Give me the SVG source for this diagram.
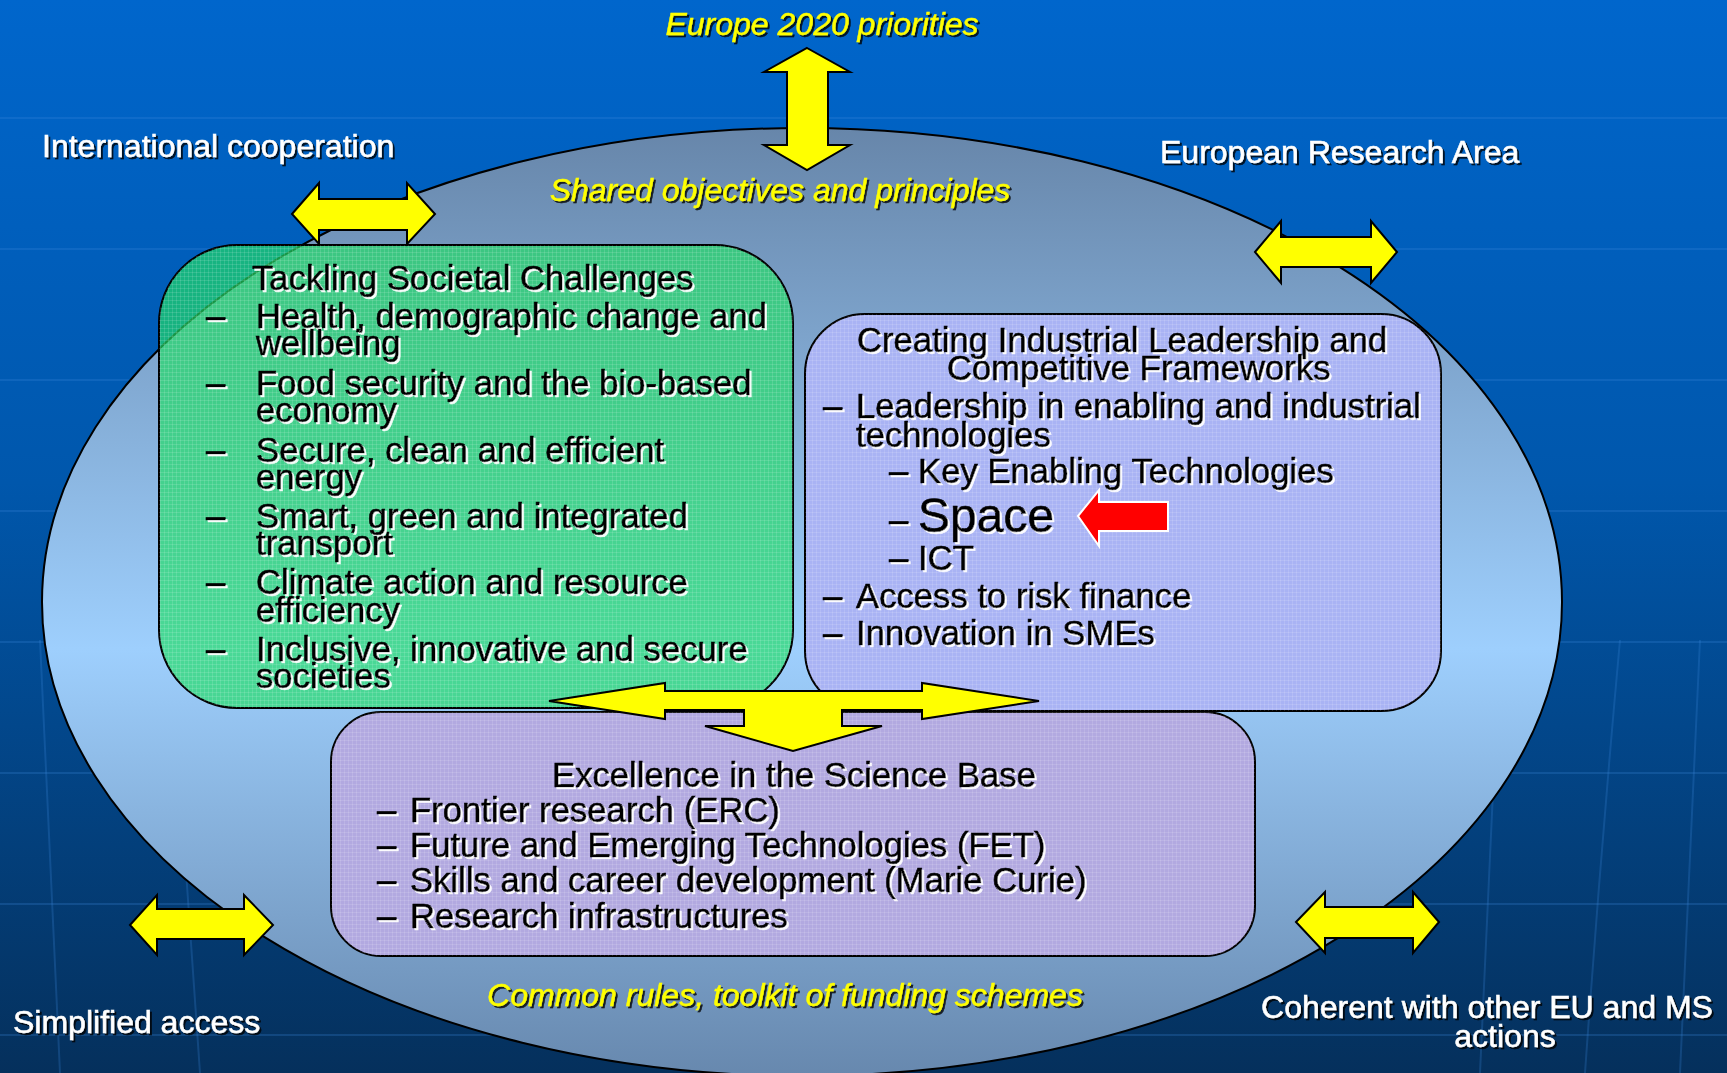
<svg xmlns="http://www.w3.org/2000/svg" width="1727" height="1073" viewBox="0 0 1727 1073">
<defs>
<linearGradient id="bg" x1="0" y1="0" x2="0" y2="1">
<stop offset="0" stop-color="#0066CC"/>
<stop offset="0.45" stop-color="#0057AC"/>
<stop offset="1" stop-color="#05305C"/>
</linearGradient>
<linearGradient id="ell" x1="0" y1="0" x2="0" y2="1">
<stop offset="0" stop-color="#6786AA"/>
<stop offset="0.55" stop-color="#9ECFFD"/>
<stop offset="1" stop-color="#6788AE"/>
</linearGradient>
<pattern id="grid" width="4" height="4" patternUnits="userSpaceOnUse">
<path d="M0 0.5H4M0.5 0V4" stroke="#ffffff" stroke-opacity="0.12" stroke-width="1"/>
</pattern>
<filter id="wsh" x="-5%" y="-20%" width="110%" height="140%">
<feDropShadow dx="2" dy="2" stdDeviation="0" flood-color="#ffffff" flood-opacity="0.95"/>
</filter>
<filter id="dsh" x="-5%" y="-20%" width="110%" height="140%">
<feDropShadow dx="2" dy="2" stdDeviation="0" flood-color="#000000" flood-opacity="0.8"/>
</filter>
<style>
.t{font-family:"Liberation Sans",Arial,sans-serif;font-size:34.7px;fill:#000;stroke:#000;stroke-width:0.6px;}
.lab{font-family:"Liberation Sans",Arial,sans-serif;font-size:32px;fill:#fff;stroke:#fff;stroke-width:0.5px;}
.yl{font-family:"Liberation Sans",Arial,sans-serif;font-size:32px;font-style:italic;fill:#FFFF00;stroke:#FFFF00;stroke-width:0.4px;}
.arr{fill:#FFFF00;stroke:#000;stroke-width:2;stroke-linejoin:miter;}
.box{stroke:#000;stroke-width:2;}
.faint{stroke:#3A86DA;stroke-opacity:0.25;stroke-width:2;fill:none;}
</style>
</defs>
<rect width="1727" height="1073" fill="url(#bg)"/>
<g id="globe-lines">
<path class="faint" d="M0 118H1727M0 249H1727M0 380H1727M0 511H1727M0 642H1727M0 773H1727M0 904H1727M0 1035H1727"/>
<path class="faint" d="M40 640Q50 860 60 1073M170 640Q185 860 200 1073M1500 640Q1490 860 1480 1073M1620 640Q1600 860 1585 1073M1700 640Q1690 860 1680 1073"/>
</g>
<g id="ellipse">
<ellipse cx="802" cy="602" rx="760" ry="474" fill="url(#ell)" stroke="#000" stroke-width="2"/>
</g>
<g id="societal">
<rect class="box" x="159" y="245" width="634" height="463" rx="78" ry="78" fill="#22DD66" fill-opacity="0.68"/>
<rect x="159" y="245" width="634" height="463" rx="78" ry="78" fill="url(#grid)"/>
<g filter="url(#wsh)">
<text class="t" x="252" y="290">Tackling Societal Challenges</text>
<text class="t" x="206" y="328">–</text><text class="t" x="256" y="328">Health, demographic change and</text>
<text class="t" x="256" y="355">wellbeing</text>
<text class="t" x="206" y="395">–</text><text class="t" x="256" y="395">Food security and the bio-based</text>
<text class="t" x="256" y="422">economy</text>
<text class="t" x="206" y="462">–</text><text class="t" x="256" y="462">Secure, clean and efficient</text>
<text class="t" x="256" y="489">energy</text>
<text class="t" x="206" y="528">–</text><text class="t" x="256" y="528">Smart, green and integrated</text>
<text class="t" x="256" y="555">transport</text>
<text class="t" x="206" y="594">–</text><text class="t" x="256" y="594">Climate action and resource</text>
<text class="t" x="256" y="622">efficiency</text>
<text class="t" x="206" y="661">–</text><text class="t" x="256" y="661">Inclusive, innovative and secure</text>
<text class="t" x="256" y="688">societies</text>
</g>
</g>
<g id="industrial">
<rect class="box" x="805" y="314" width="636" height="397" rx="60" ry="60" fill="#A9B3F4"/>
<rect x="805" y="314" width="636" height="397" rx="60" ry="60" fill="url(#grid)"/>
<g filter="url(#wsh)">
<text class="t" x="857" y="352">Creating Industrial Leadership and</text>
<text class="t" x="947" y="380">Competitive Frameworks</text>
<text class="t" x="823" y="418">–</text><text class="t" x="856" y="418">Leadership in enabling and industrial</text>
<text class="t" x="856" y="447">technologies</text>
<text class="t" x="889" y="483">–</text><text class="t" x="918" y="483">Key Enabling Technologies</text>
<text class="t" x="889" y="532">–</text><text class="t" x="918" y="532" style="font-size:48px">Space</text>
<text class="t" x="889" y="570">–</text><text class="t" x="918" y="570">ICT</text>
<text class="t" x="823" y="608">–</text><text class="t" x="856" y="608">Access to risk finance</text>
<text class="t" x="823" y="645">–</text><text class="t" x="856" y="645">Innovation in SMEs</text>
</g>
<path d="M1078 516L1099 490V502H1168V531H1099V546Z" fill="#FF0000" stroke="#ffffff" stroke-width="2"/>
</g>
<g id="excellence">
<rect class="box" x="331" y="712" width="924" height="244" rx="50" ry="50" fill="#B2A9E0"/>
<rect x="331" y="712" width="924" height="244" rx="50" ry="50" fill="url(#grid)"/>
<g filter="url(#wsh)">
<text class="t" x="794" y="787" text-anchor="middle">Excellence in the Science Base</text>
<text class="t" x="377" y="822">–</text><text class="t" x="410" y="822">Frontier research (ERC)</text>
<text class="t" x="377" y="857">–</text><text class="t" x="410" y="857">Future and Emerging Technologies (FET)</text>
<text class="t" x="377" y="892">–</text><text class="t" x="410" y="892">Skills and career development (Marie Curie)</text>
<text class="t" x="377" y="928">–</text><text class="t" x="410" y="928">Research infrastructures</text>
</g>
</g>
<g id="connectors">
<path class="arr" d="M807 48L850 72H828V145H850L807 170L764 145H787V72H764Z"/>
<path class="arr" d="M292 214L319 183V199H407V183L435 214L407 244V230H319V244Z"/>
<path class="arr" d="M1255 252L1281 221V237H1371V221L1397 252L1371 283V267H1281V283Z"/>
<path class="arr" d="M130 925L157 895V909H244V895L273 925L244 955V939H157V955Z"/>
<path class="arr" d="M1296 922L1325 892V907H1413V892L1439 922L1413 953V938H1325V953Z"/>
<path class="arr" d="M549 701L665 683V691H922V683L1039 701L922 719V710H842V726H882L793 751L705 726H744V710H665V719Z"/>
</g>
<g id="labels">
<g filter="url(#dsh)">
<text class="yl" x="822" y="35" text-anchor="middle">Europe 2020 priorities</text>
<text class="yl" x="780" y="201" text-anchor="middle">Shared objectives and principles</text>
<text class="yl" x="785" y="1006" text-anchor="middle">Common rules, toolkit of funding schemes</text>
<text class="lab" x="42" y="157">International cooperation</text>
<text class="lab" x="1160" y="163">European Research Area</text>
<text class="lab" x="13" y="1033">Simplified access</text>
<text class="lab" x="1487" y="1018" text-anchor="middle">Coherent with other EU and MS</text>
<text class="lab" x="1505" y="1047" text-anchor="middle">actions</text>
</g>
</g>
</svg>
